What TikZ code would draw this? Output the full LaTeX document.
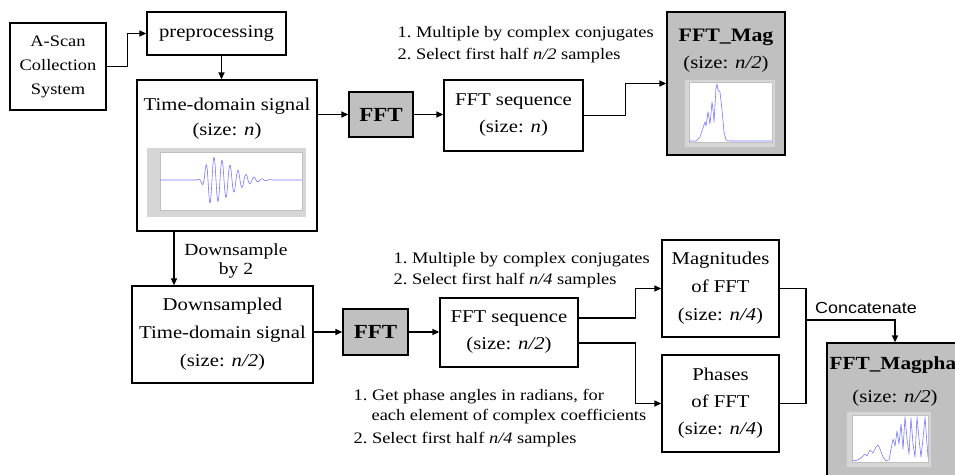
\documentclass[tikz,border=0pt]{standalone}
\usepackage{fontspec}
\setmainfont{Liberation Serif}[FakeStretch=1.15]
\newfontfamily\notesans{Liberation Sans}[FakeStretch=1.12]
\usetikzlibrary{arrows.meta}
\definecolor{boxgrey}{RGB}{192,192,192}
\definecolor{framegrey}{RGB}{214,214,214}
\definecolor{sigblue}{RGB}{120,120,255}
\newcommand\fsz[2]{\fontsize{#1}{#2}\selectfont}

\begin{document}
\begin{tikzpicture}[x=1pt, y=-1pt,
  line width=1.3pt,
  >={Triangle[length=7pt,width=6pt]},
  box/.style={draw, line width=1.3pt, inner sep=0pt, align=center, font=\fsz{18}{27}},
  fftbox/.style={box, fill=boxgrey, font=\bfseries\fsz{20}{24}},
  outbox/.style={box, fill=boxgrey},
  note/.style={inner sep=0pt, anchor=base west, font=\fsz{16}{21}},
  txt/.style={inner sep=0pt, anchor=base, font=\fsz{18}{27}},
  ttl/.style={inner sep=0pt, anchor=base, font=\bfseries\fsz{19}{24}},
  frame/.style={fill=framegrey},
  axes/.style={fill=white, draw=black!25, line width=0.4pt},
  sig/.style={draw=sigblue, line width=0.6pt, line join=round},
]
\useasboundingbox (0,0) rectangle (955,474);
\clip (0,0) rectangle (955,474);
\fill[white] (0,0) rectangle (955,474);

% ---- upper chain ----
\node[box, minimum width=96, minimum height=87, font=\fsz{16}{24}] (ascan) at (58,66.5) {A-Scan\\Collection\\System};
\node[box, minimum width=139, minimum height=43] (prep) at (216.5,33.5) {preprocessing};
\node[box, minimum width=180, minimum height=151] (td) at (227,155.5) {};
\node[txt] (tdtitle) at (227,110) {Time-domain signal};
\node[txt] (tdsize) at (227,135) {(size: \textit{n})};

% time-domain waveform: flat, fast rise, slow decay (8 px period)
\fill[frame] (147,148) rectangle (306,217);
\draw[axes] (160,152) rectangle (302,210);
\draw[sig] (160,180) -- (190,180)
  plot[domain=190:210, samples=160] (\x, {180 - 23*exp(-(\x-210)*(\x-210)/36)*sin(45*(\x-196))})
  plot[domain=210:272, samples=400] (\x, {180 - 23*exp(-(\x-210)*(\x-210)/900)*sin(45*(\x-196))})
  -- (302,180);

\node[fftbox, minimum width=64, minimum height=45] (fft1) at (381,114.5) {FFT};
\node[box, minimum width=139, minimum height=71] (seq1) at (513.5,115.5) {FFT sequence\\(size: \textit{n})};

\node[note] (n1a) at (397,37) {1.\ Multiple by complex conjugates};
\node[note] (n1b) at (397,59) {2.\ Select first half \textit{n/2} samples};

\node[outbox, minimum width=118, minimum height=143] (mag) at (726,83.5) {};
\node[ttl] (magtitle) at (726,41) {FFT\_Mag};
\node[txt] (magsize) at (726,68) {(size: \textit{n/2})};
\fill[frame] (685,80) rectangle (775,147);
\draw[axes] (689,82) rectangle (772,142);
\draw[sig] (689,141) -- (696,141) -- (700,137) -- (703,128) -- (705,122) -- (706,126)
  -- (708,112) -- (709,118) -- (710,124) -- (712,102) -- (713,110) -- (714,122)
  -- (716,88) -- (717,84) -- (718,90) -- (720,92) -- (722,110) -- (724,132)
  -- (726,140) -- (730,141) -- (772,141);

% ---- lower chain ----
\node[box, minimum width=181, minimum height=97, font=\fsz{18}{28}] (ds) at (222.5,334.5) {Downsampled\\Time-domain signal\\(size: \textit{n/2})};
\node[inner sep=0pt, anchor=base, font=\fsz{17}{20}] (dsa) at (236,255) {Downsample};
\node[inner sep=0pt, anchor=base, font=\fsz{17}{20}] (dsb) at (236,274) {by 2};

\node[fftbox, minimum width=65, minimum height=46] (fft2) at (375.5,332) {FFT};
\node[box, minimum width=138, minimum height=69] (seq2) at (509,332.5) {FFT sequence\\(size: \textit{n/2})};

\node[note] (n2a) at (393,263) {1.\ Multiple by complex conjugates};
\node[note] (n2b) at (393,284) {2.\ Select first half \textit{n/4} samples};

\node[note] (n3a) at (353,400) {1.\ Get phase angles in radians, for};
\node[note] (n3b) at (371,420) {each element of complex coefficients};
\node[note] (n3c) at (353,443) {2.\ Select first half \textit{n/4} samples};

\node[box, minimum width=117, minimum height=97, font=\fsz{18}{28}] (mag2) at (720.5,288.5) {Magnitudes\\of FFT\\(size: \textit{n/4})};
\node[box, minimum width=117, minimum height=97, font=\fsz{18}{27}] (ph) at (720.5,403.5) {Phases\\of FFT\\(size: \textit{n/4})};

\node[inner sep=0pt, anchor=base, font=\notesans\fsz{16}{20}] (cat) at (866,313) {Concatenate};

\node[outbox, minimum width=136, minimum height=137] (magpha) at (895,411.5) {};
\node[inner sep=0pt, anchor=base west, font=\bfseries\fsz{18.5}{24}] (mptitle) at (829,369) {FFT\_Magpha};
\node[txt] (mpsize) at (895,402) {(size: \textit{n/2})};
\fill[frame] (847,412) rectangle (931,467);
\draw[axes] (852,415) rectangle (928,462);
\draw[sig] (852,461) -- (858,460) -- (862,457) -- (865,454) -- (867,456) -- (870,450)
  -- (873,453) -- (876,447) -- (878,445) -- (880,449) -- (883,457) -- (886,461)
  -- (889,460) -- (891,449) -- (893,439) -- (895,446) -- (897,431) -- (899,444)
  -- (901,424) -- (903,449) -- (905,417) -- (907,439) -- (909,454) -- (911,418)
  -- (913,444) -- (915,457) -- (917,417) -- (919,439) -- (921,457) -- (923,439)
  -- (925,417) -- (927,444) -- (928,457);

% ---- connectors ----
\draw[->] (ascan.east) -- ++(21,0) |- (prep.west);
\draw[->] ([xshift=5pt]prep.south) -- ([xshift=5pt]prep.south |- td.north);
\draw[->] (fft1.west -| td.east) -- (fft1.west);
\draw[->] (fft1.east) -- (fft1.east -| seq1.west);
\draw[->] (seq1.east) -- ++(42,0) |- (mag.west);

\draw[->] ([xshift=-53pt]td.south) -- ([xshift=-53pt]td.south |- ds.north);
\draw[->] (fft2.west -| ds.east) -- (fft2.west);
\draw[->] (fft2.east) -- (fft2.east -| seq2.west);
\draw[->] ([yshift=14.5pt]seq2.east) -- ++(57,0) |- (mag2.west);
\draw[->] ([yshift=-10.5pt]seq2.east) -- ++(57,0) |- (ph.west);

\coordinate (cj) at (806,320);
\draw (mag2.east) -| (cj) |- (ph.east);
\draw[->] (cj) -| (magpha.north);
\end{tikzpicture}
\end{document}
